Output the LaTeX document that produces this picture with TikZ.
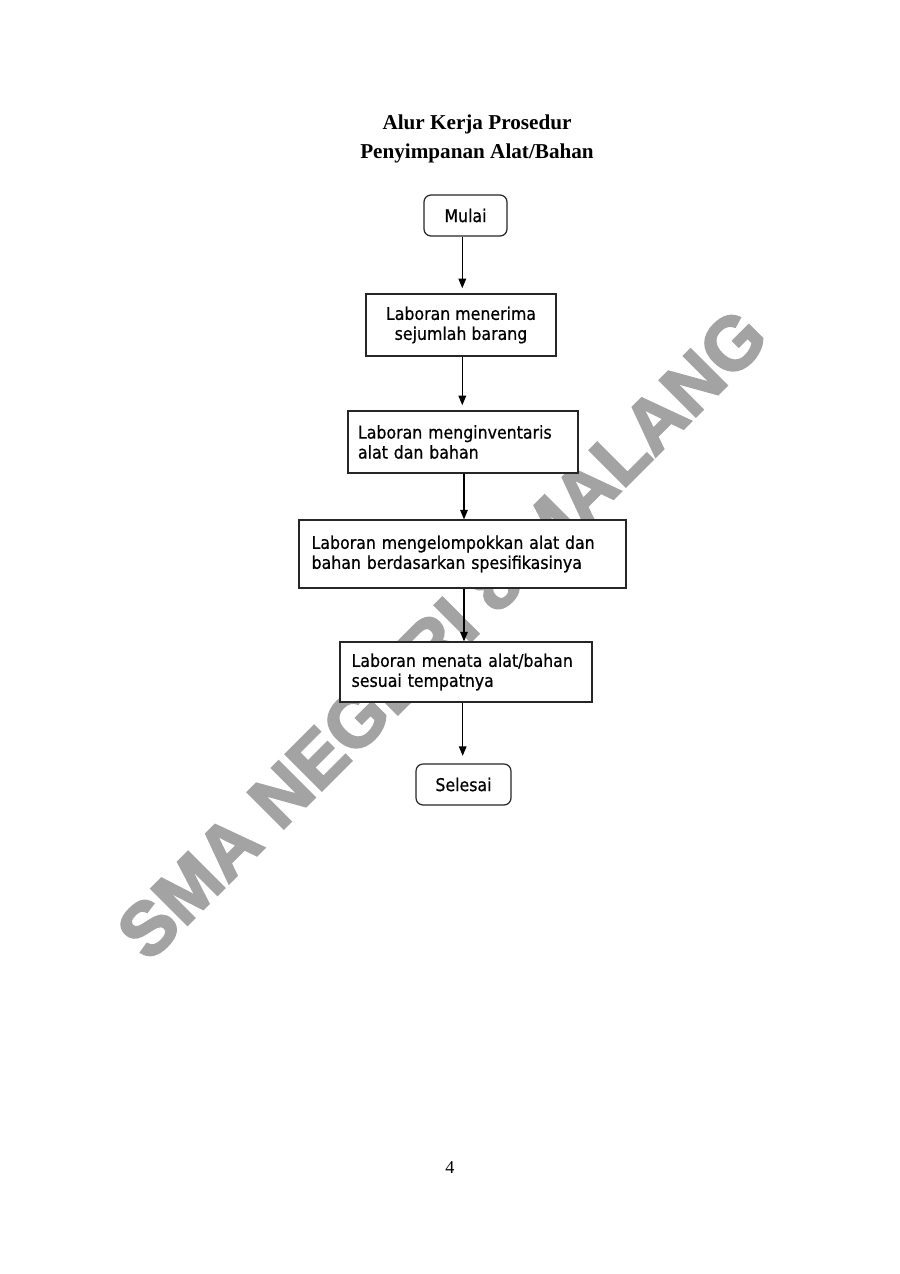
\documentclass[tikz,border=0pt]{standalone}
\usepackage{fontspec}
\setmainfont{Liberation Serif}
\newfontfamily\tah[FakeStretch=0.9,FakeBold=0.6]{DejaVu Sans}
\newfontfamily\wmfont[FakeBold=3]{Liberation Sans}
\usetikzlibrary{arrows.meta}
\definecolor{wmgray}{RGB}{163,163,163}
\begin{document}
\begin{tikzpicture}[x=0.6614pt, y=-0.6614pt,
  box/.style={draw=black!85, line width=0.8pt, fill=white,
    font=\tah\fontsize{11.6}{13.2}\selectfont, inner ysep=0pt},
  term/.style={box, rounded corners=4.6pt, align=center},
  arr/.style={-{Triangle[width=5pt,length=6.3pt]}, line width=0.8pt, draw=black},
  title/.style={font=\bfseries\fontsize{14}{17}\selectfont, anchor=base, inner sep=0pt}]
\useasboundingbox[fill=white] (0,0) rectangle (900,1274);

% watermark
\node[rotate=45, text=wmgray, font=\wmfont\bfseries\fontsize{49.2}{53}\selectfont, inner sep=0pt]
  (wm) at (442,634) {SMA NEGERI 8 MALANG};

% title
\node[title] (t1) at (477,129) {Alur Kerja Prosedur};
\node[title] (t2) at (477,158) {Penyimpanan Alat/Bahan};

% flow
\node[term, minimum width=54.9pt, minimum height=27.1pt] (mulai) at (465.5,215.5) {Mulai};
\node[box, align=center, minimum width=125.7pt, minimum height=41pt] (b1) at (461,325)
  {Laboran menerima\\sejumlah barang};
\node[box, align=left, text width=138.9pt, inner xsep=6.61pt, minimum height=41pt] (b2) at (463,442)
  {Laboran menginventaris\\alat dan bahan};
\node[box, align=left, text width=199.6pt, inner xsep=8.33pt, minimum height=45pt] (b3) at (462.5,554)
  {Laboran mengelompokkan alat dan\\bahan berdasarkan spesifikasinya};
\node[box, align=left, text width=151.3pt, inner xsep=7.67pt, minimum height=39.7pt] (b4) at (466,672)
  {Laboran menata alat/bahan\\sesuai tempatnya};
\node[term, minimum width=62.8pt, minimum height=27.1pt] (selesai) at (463.5,784.5) {Selesai};

\coordinate (xa) at (462.3,0);
\coordinate (xb) at (464,0);
\coordinate (xc) at (462.7,0);
\draw[arr, shorten >=3.4pt] (mulai.south -| xa) -- (b1.north -| xa);
\draw[arr, shorten >=3.4pt] (b1.south -| xa) -- (b2.north -| xa);
\draw[arr] (b2.south -| xb) -- (b3.north -| xb);
\draw[arr] (b3.south -| xb) -- (b4.north -| xb);
\draw[arr, shorten >=5pt] (b4.south -| xc) -- (selesai.north -| xc);

% page number
\node[font=\fontsize{12}{14}\selectfont, anchor=base, inner sep=0pt] (pg) at (450,1173) {4};
\end{tikzpicture}
\end{document}
